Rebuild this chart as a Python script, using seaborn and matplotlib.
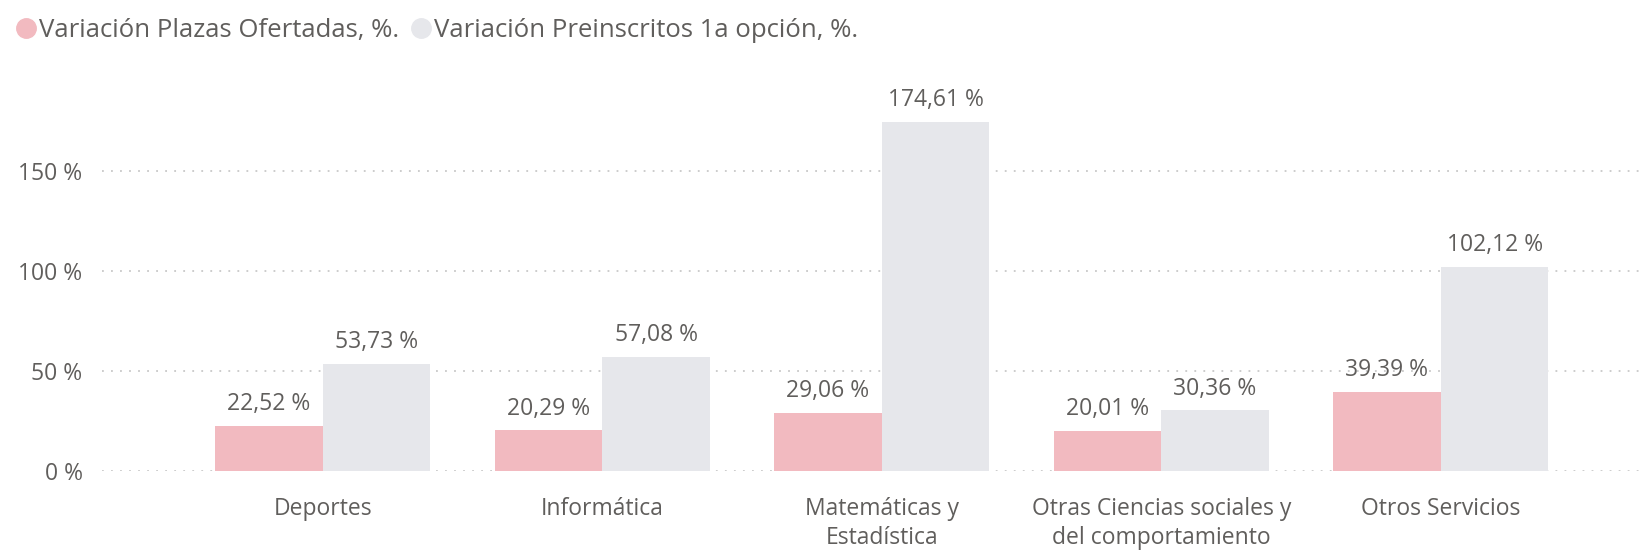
import pandas as pd
import matplotlib.pyplot as plt
import seaborn as sns
from matplotlib.lines import Line2D

# data
categorias = ["Deportes", "Informática", "Matemáticas y\nEstadística",
              "Otras Ciencias sociales y\ndel comportamiento", "Otros Servicios"]
plazas = [22.52, 20.29, 29.06, 20.01, 39.39]
preinscritos = [53.73, 57.08, 174.61, 30.36, 102.12]
series = ["Variación Plazas Ofertadas, %.", "Variación Preinscritos 1a opción, %."]
yticks = [0, 50, 100, 150]

colores = ["#F2BAC0", "#E6E7EB"]
gris_txt = "#605E5C"

df = pd.DataFrame({
    "categoria": categorias * 2,
    "serie": [series[0]] * 5 + [series[1]] * 5,
    "valor": plazas + preinscritos,
})

sns.set_style("white")
plt.rcParams['font.family'] = ['Open Sans', 'DejaVu Sans']

fig = plt.figure(figsize=(16.47, 5.53), dpi=100)
ax = fig.add_axes([102 / 1647, 82 / 553, 1540 / 1647, 370 / 553])

sns.barplot(data=df, x="categoria", y="valor", hue="serie", palette=colores,
            width=0.77, gap=0, saturation=1, legend=False, ax=ax, zorder=2,
            linewidth=0)

for cont in ax.containers:
    labels = [f"{v:.2f} %".replace(".", ",") for v in cont.datavalues]
    ax.bar_label(cont, labels=labels, padding=7, fontsize=16.5, color=gris_txt)

ax.set_xlim(-0.79, 4.72)
ax.set_ylim(0, 185)
ax.set_yticks(yticks)
ax.set_yticklabels([f"{t} %" for t in yticks])
ax.set_xlabel("")
ax.set_ylabel("")
ax.tick_params(axis="both", length=0, labelsize=16.5, colors=gris_txt)
ax.tick_params(axis="x", pad=19)
ax.tick_params(axis="y", pad=14)
for lbl in ax.get_xticklabels():
    lbl.set_linespacing(1.25)

ax.yaxis.grid(True, color="#C8C8C8", linestyle=(0, (1, 4)), linewidth=1.3, zorder=0)
ax.set_axisbelow(True)
sns.despine(ax=ax, left=True, bottom=True)

handles = [Line2D([], [], marker="o", linestyle="", markersize=14, color=c) for c in colores]
fig.legend(handles, series, loc="upper left", bbox_to_anchor=(-0.003, 1.0), ncol=2,
           frameon=False, fontsize=18.5, labelcolor=gris_txt, handletextpad=0.0,
           columnspacing=0.35, handlelength=1.0, borderaxespad=0.3)

fig.savefig("out.png", dpi=100)
